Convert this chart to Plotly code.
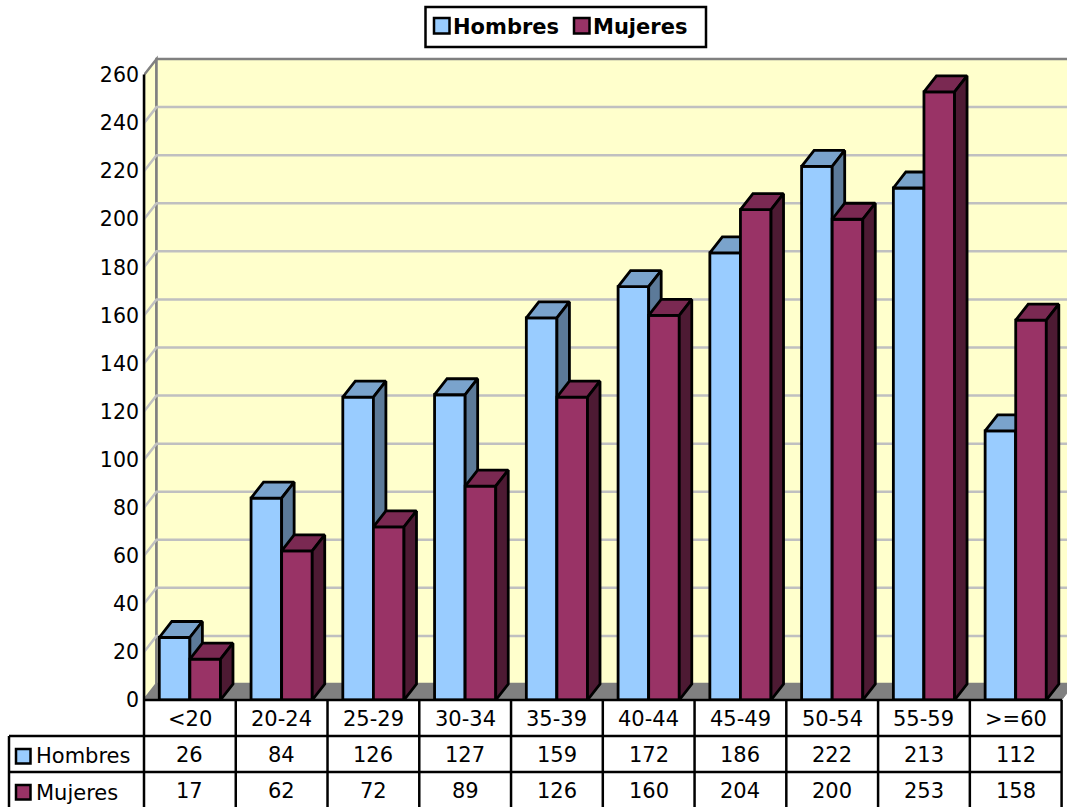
import plotly.graph_objects as go

categories = ["<20", "20-24", "25-29", "30-34", "35-39", "40-44", "45-49", "50-54", "55-59", ">=60"]
hombres = [26, 84, 126, 127, 159, 172, 186, 222, 213, 112]
mujeres = [17, 62, 72, 89, 126, 160, 204, 200, 253, 158]
yticks = list(range(0, 261, 20))

W, H = 1067, 807
L, T, B = 144, 51, 107
CAT = 91.76
UNIT = (H - T - B) / 270
DX = 12.5 / CAT
DY = 16 / UNIT
BW = 1 / 3
FONT = "DejaVu Sans"
TXT = "#000000"
EDGE = 2.8


def xp(px):
    return (px - L) / (W - L)


def yp(py):
    return (H - B - py) / (H - T - B)


def poly(points):
    return "M" + "L".join(f"{x},{y}" for x, y in points) + "Z"


shapes = []
# walls and floor
shapes.append(dict(type="path", layer="below", xref="x", yref="y", fillcolor="#FFFFCC",
                   line=dict(color="#808080", width=2.5),
                   path=poly([(0, 0), (DX, DY), (DX, 260 + DY), (0, 260)])))
shapes.append(dict(type="path", layer="below", xref="x", yref="y", fillcolor="#FFFFCC",
                   line=dict(color="#808080", width=2.5),
                   path=poly([(DX, DY), (10 + DX, DY), (10 + DX, 260 + DY), (DX, 260 + DY)])))
for t in yticks[1:-1]:
    shapes.append(dict(type="path", layer="below", xref="x", yref="y",
                       line=dict(color="#C0C0C0", width=2.5),
                       path=f"M0,{t}L{DX},{t + DY}L{10 + DX},{t + DY}"))
shapes.append(dict(type="path", layer="below", xref="x", yref="y", fillcolor="#808080",
                   line=dict(color="#808080", width=1),
                   path=poly([(0, 0), (DX, DY), (10 + DX, DY), (10, 0)])))


def black(x0, y0, x1, y1):
    shapes.append(dict(type="line", xref="paper", yref="paper", layer="above",
                       x0=xp(x0), x1=xp(x1), y0=yp(y0), y1=yp(y1),
                       line=dict(color="black", width=2.5)))


# value axis and data table grid
black(L, 74.5, L, H + 2)
black(L, 700, 1062, 700)
for i in range(1, 11):
    black(L + i * CAT, 700, L + i * CAT, H + 2)
for row_y in (736, 772):
    black(9, row_y, 1062, row_y)
black(9, 736, 9, H + 2)


def key(x, y, size, color):
    shapes.append(dict(type="rect", xref="paper", yref="paper", layer="above",
                       x0=xp(x), x1=xp(x + size), y0=yp(y), y1=yp(y + size),
                       fillcolor=color, line=dict(color="black", width=2.5)))


key(16, 749, 14.5, "#99CCFF")
key(16, 785, 14.5, "#993366")
key(434, 18, 15.5, "#99CCFF")
key(574, 18, 15.5, "#993366")
# legend frame
shapes.append(dict(type="rect", xref="paper", yref="paper", layer="above",
                   x0=xp(425.5), x1=xp(706), y0=yp(7), y1=yp(47),
                   fillcolor="rgba(0,0,0,0)", line=dict(color="black", width=2.5)))

annotations = []


def label(text, x, y, anchor="center", bold=False, size=21):
    annotations.append(dict(text=f"<b>{text}</b>" if bold else text, xref="paper", yref="paper",
                            x=xp(x), y=yp(y), xanchor=anchor, yanchor="middle", showarrow=False,
                            font=dict(family=FONT, size=size, color=TXT)))


for i, c in enumerate(categories):
    cx = L + (i + 0.5) * CAT
    label(c.replace("<", "&lt;").replace(">", "&gt;"), cx, 719)
    label(str(hombres[i]), cx, 755)
    label(str(mujeres[i]), cx, 791)
label("Hombres", 34, 756, "left")
label("Mujeres", 34, 793, "left")
label("Hombres", 451, 27, "left", True)
label("Mujeres", 591, 27, "left", True)

fig = go.Figure()


def faces(vals, x0s, top_c, side_c, xa, ya):
    tx, ty, sx, sy = [], [], [], []
    for x0, v in zip(x0s, vals):
        x1 = x0 + BW
        tx += [x0, x1, x1 + DX, x0 + DX, x0, None]
        ty += [v, v, v + DY, v + DY, v, None]
        sx += [x1, x1 + DX, x1 + DX, x1, x1, None]
        sy += [0, DY, v + DY, v, 0, None]
    for px_, py_, col in ((tx, ty, top_c), (sx, sy, side_c)):
        fig.add_trace(go.Scatter(x=px_, y=py_, mode="lines", fill="toself", fillcolor=col,
                                 line=dict(color="black", width=EDGE), showlegend=False,
                                 hoverinfo="skip", xaxis=xa, yaxis=ya))


def series(name, vals, start, fill, top_c, side_c, xa, ya):
    x0s = [i + start for i in range(len(vals))]
    fig.add_trace(go.Bar(name=name, x=[x + BW / 2 for x in x0s], y=vals, width=BW,
                         marker=dict(color=fill, line=dict(color="black", width=EDGE)),
                         showlegend=False, xaxis=xa, yaxis=ya))
    faces(vals, x0s, top_c, side_c, xa, ya)


series("Hombres", hombres, 1 / 6, "#99CCFF", "#7AA3CC", "#5C7A99", "x", "y")
series("Mujeres", mujeres, 1 / 2, "#993366", "#7A2952", "#4D1A33", "x2", "y2")

xrange_ = [0, (W - L) / CAT]
yrange_ = [0, 270]
fig.update_layout(
    width=W, height=H, margin=dict(l=L, r=0, t=T, b=B, pad=0),
    paper_bgcolor="white", plot_bgcolor="rgba(0,0,0,0)",
    barmode="overlay", showlegend=False,
    shapes=shapes, annotations=annotations,
    xaxis=dict(range=xrange_, showgrid=False, zeroline=False, showticklabels=False, ticks=""),
    yaxis=dict(range=yrange_, tickvals=yticks, showgrid=False, zeroline=False, ticks="",
               ticklabelstandoff=4,
               tickfont=dict(family=FONT, size=20.5, color=TXT)),
    xaxis2=dict(range=xrange_, overlaying="x", visible=False),
    yaxis2=dict(range=yrange_, overlaying="y", visible=False),
)
fig.write_html("out.html", config=dict(displayModeBar=False),
               post_script="document.body.style.margin='0';document.body.style.overflow='hidden';")
